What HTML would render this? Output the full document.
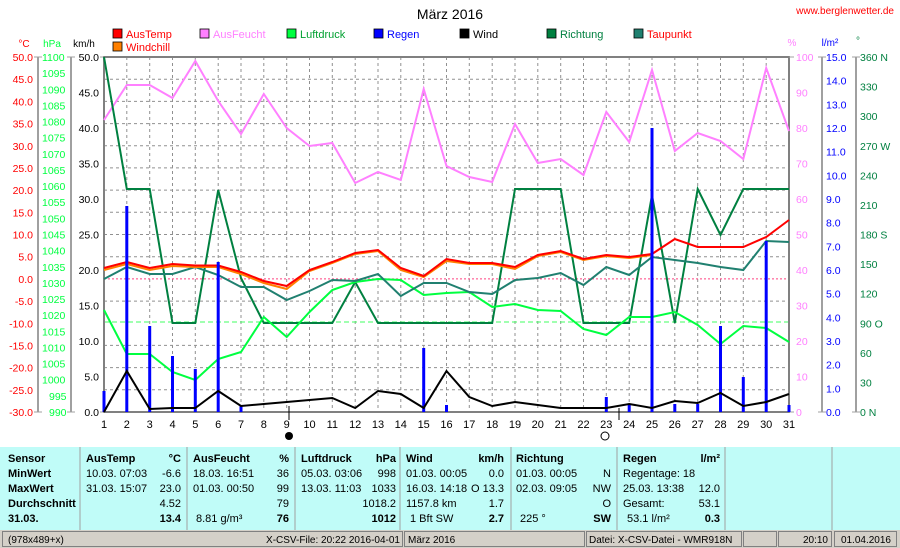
<!DOCTYPE html>
<html><head><meta charset="utf-8"><style>
body{margin:0;background:#fff;width:900px;height:548px;overflow:hidden}
svg{display:block;font-family:"Liberation Sans",sans-serif}
</style></head><body>
<svg width="900" height="548" viewBox="0 0 900 548" xmlns="http://www.w3.org/2000/svg">
<rect width="900" height="548" fill="#fff"/>
<text x="450" y="19" font-size="14" text-anchor="middle">März 2016</text>
<text x="894" y="14" font-size="10" fill="#ff0000" text-anchor="end">www.berglenwetter.de</text>
<g font-size="11">
<rect x="113" y="29" width="9" height="9" fill="#ff0000" stroke="#000" stroke-width="0.8"/><text x="126" y="38" fill="#ff0000">AusTemp</text>
<rect x="113" y="42" width="9" height="9" fill="#ff8000" stroke="#000" stroke-width="0.8"/><text x="126" y="51" fill="#ff0000">Windchill</text>
<rect x="200" y="29" width="9" height="9" fill="#ff80ff" stroke="#000" stroke-width="0.8"/><text x="213" y="38" fill="#ff80ff">AusFeucht</text>
<rect x="287" y="29" width="9" height="9" fill="#00ff40" stroke="#000" stroke-width="0.8"/><text x="300" y="38" fill="#00a030">Luftdruck</text>
<rect x="374" y="29" width="9" height="9" fill="#0000ff" stroke="#000" stroke-width="0.8"/><text x="387" y="38" fill="#0000ff">Regen</text>
<rect x="460" y="29" width="9" height="9" fill="#000" stroke="#000" stroke-width="0.8"/><text x="473" y="38" fill="#000">Wind</text>
<rect x="547" y="29" width="9" height="9" fill="#008040" stroke="#000" stroke-width="0.8"/><text x="560" y="38" fill="#008040">Richtung</text>
<rect x="634" y="29" width="9" height="9" fill="#208070" stroke="#000" stroke-width="0.8"/><text x="647" y="38" fill="#ff0000">Taupunkt</text>
</g>
<g font-size="10">
<text x="24" y="47" fill="#ff0000" text-anchor="middle">°C</text>
<text x="52" y="47" fill="#00ff40" text-anchor="middle">hPa</text>
<text x="84" y="47" fill="#000" text-anchor="middle">km/h</text>
<text x="792" y="46" fill="#ff80ff" text-anchor="middle">%</text>
<text x="830" y="46" fill="#0000ff" text-anchor="middle">l/m²</text>
<text x="858" y="44" fill="#008040" text-anchor="middle">°</text>
</g>
<g stroke="#909090" stroke-width="1" stroke-dasharray="3,3" fill="none">
<path d="M104 79.2H789M104 101.4H789M104 123.6H789M104 145.8H789M104 167.9H789M104 190.1H789M104 212.3H789M104 234.5H789M104 256.7H789M104 301.1H789M104 345.4H789M104 367.6H789M104 389.8H789"/>
<path d="M126.8 57V412M149.7 57V412M172.5 57V412M195.3 57V412M218.2 57V412M241 57V412M263.8 57V412M286.7 57V412M309.5 57V412M332.3 57V412M355.2 57V412M378 57V412M400.8 57V412M423.7 57V412M446.5 57V412M469.3 57V412M492.2 57V412M515 57V412M537.8 57V412M560.7 57V412M583.5 57V412M606.3 57V412M629.2 57V412M652 57V412M674.8 57V412M697.7 57V412M720.5 57V412M743.3 57V412M766.2 57V412"/>
</g>
<line x1="104" y1="278.9" x2="789" y2="278.9" stroke="#ff4080" stroke-dasharray="2,2"/>
<line x1="104" y1="322" x2="789" y2="322" stroke="#40ff60" stroke-dasharray="5,3"/>
<rect x="104" y="57" width="685" height="355" fill="none" stroke="#808080" stroke-width="2"/>
<g stroke="#a0a0a0" stroke-width="2"><line x1="38" y1="57" x2="38" y2="412"/><line x1="71" y1="57" x2="71" y2="412"/>
<line x1="822" y1="57" x2="822" y2="412"/><line x1="856" y1="57" x2="856" y2="412"/></g>
<g stroke="#a0a0a0" stroke-width="1">
<path d="M34 57h8M34 412h8M67 57h8M67 412h8M100 57h4M100 412h4M818 57h8M818 412h8M852 57h8M852 412h8M789 57h5M789 412h5"/>
</g>
<g font-size="10.5" fill="#ff0000" text-anchor="end">
<text x="33" y="61">50.0</text><text x="33" y="83.2">45.0</text><text x="33" y="105.4">40.0</text><text x="33" y="127.6">35.0</text><text x="33" y="149.8">30.0</text><text x="33" y="171.9">25.0</text><text x="33" y="194.1">20.0</text><text x="33" y="216.3">15.0</text><text x="33" y="238.5">10.0</text><text x="33" y="260.7">5.0</text><text x="33" y="282.9">0.0</text><text x="33" y="305.1">-5.0</text><text x="33" y="327.3">-10.0</text><text x="33" y="349.4">-15.0</text><text x="33" y="371.6">-20.0</text><text x="33" y="393.8">-25.0</text><text x="33" y="416">-30.0</text>
</g>
<g font-size="10.5" fill="#00ff40">
<text x="42" y="61">1100</text><text x="42" y="77.1">1095</text><text x="42" y="93.3">1090</text><text x="42" y="109.4">1085</text><text x="42" y="125.5">1080</text><text x="42" y="141.7">1075</text><text x="42" y="157.8">1070</text><text x="42" y="174">1065</text><text x="42" y="190.1">1060</text><text x="42" y="206.2">1055</text><text x="42" y="222.4">1050</text><text x="42" y="238.5">1045</text><text x="42" y="254.6">1040</text><text x="42" y="270.8">1035</text><text x="42" y="286.9">1030</text><text x="42" y="303">1025</text><text x="42" y="319.2">1020</text><text x="42" y="335.3">1015</text><text x="42" y="351.5">1010</text><text x="42" y="367.6">1005</text><text x="42" y="383.7">1000</text><text x="49" y="399.9">995</text><text x="49" y="416">990</text>
</g>
<g font-size="10.5" fill="#000" text-anchor="end">
<text x="99" y="61">50.0</text><text x="99" y="96.5">45.0</text><text x="99" y="132">40.0</text><text x="99" y="167.5">35.0</text><text x="99" y="203">30.0</text><text x="99" y="238.5">25.0</text><text x="99" y="274">20.0</text><text x="99" y="309.5">15.0</text><text x="99" y="345">10.0</text><text x="99" y="380.5">5.0</text><text x="99" y="416">0.0</text>
</g>
<g font-size="10.5" fill="#ff80ff">
<text x="796" y="61">100</text><text x="796" y="96.5">90</text><text x="796" y="132">80</text><text x="796" y="167.5">70</text><text x="796" y="203">60</text><text x="796" y="238.5">50</text><text x="796" y="274">40</text><text x="796" y="309.5">30</text><text x="796" y="345">20</text><text x="796" y="380.5">10</text><text x="796" y="416">0</text>
</g>
<g font-size="10.5" fill="#0000ff">
<text x="826" y="61">15.0</text><text x="826" y="84.7">14.0</text><text x="826" y="108.3">13.0</text><text x="826" y="132">12.0</text><text x="826" y="155.7">11.0</text><text x="826" y="179.3">10.0</text><text x="826" y="203">9.0</text><text x="826" y="226.7">8.0</text><text x="826" y="250.3">7.0</text><text x="826" y="274">6.0</text><text x="826" y="297.7">5.0</text><text x="826" y="321.3">4.0</text><text x="826" y="345">3.0</text><text x="826" y="368.7">2.0</text><text x="826" y="392.3">1.0</text><text x="826" y="416">0.0</text>
</g>
<g font-size="10.5" fill="#008040">
<text x="860" y="61">360 N</text><text x="860" y="90.6">330</text><text x="860" y="120.2">300</text><text x="860" y="149.8">270 W</text><text x="860" y="179.3">240</text><text x="860" y="208.9">210</text><text x="860" y="238.5">180 S</text><text x="860" y="268.1">150</text><text x="860" y="297.7">120</text><text x="860" y="327.3">90  O</text><text x="860" y="356.8">60</text><text x="860" y="386.4">30</text><text x="860" y="416">0   N</text>
</g>
<g font-size="11" text-anchor="middle">
<text x="104" y="428">1</text><text x="126.8" y="428">2</text><text x="149.7" y="428">3</text><text x="172.5" y="428">4</text><text x="195.3" y="428">5</text><text x="218.2" y="428">6</text><text x="241" y="428">7</text><text x="263.8" y="428">8</text><text x="286.7" y="428">9</text><text x="309.5" y="428">10</text><text x="332.3" y="428">11</text><text x="355.2" y="428">12</text><text x="378" y="428">13</text><text x="400.8" y="428">14</text><text x="423.7" y="428">15</text><text x="446.5" y="428">16</text><text x="469.3" y="428">17</text><text x="492.2" y="428">18</text><text x="515" y="428">19</text><text x="537.8" y="428">20</text><text x="560.7" y="428">21</text><text x="583.5" y="428">22</text><text x="606.3" y="428">23</text><text x="629.2" y="428">24</text><text x="652" y="428">25</text><text x="674.8" y="428">26</text><text x="697.7" y="428">27</text><text x="720.5" y="428">28</text><text x="743.3" y="428">29</text><text x="766.2" y="428">30</text><text x="789" y="428">31</text>
</g>
<line x1="289" y1="406" x2="289" y2="420" stroke="#000"/><line x1="619" y1="408" x2="619" y2="420" stroke="#000"/>
<circle cx="289" cy="436" r="4" fill="#000"/><circle cx="605" cy="436" r="4" fill="#fff" stroke="#000"/>
<polyline fill="none" stroke="#ff80ff" stroke-width="2" points="104,120 126.8,85 149.7,85 172.5,98 195.3,61 218.2,101 241,134 263.8,94 286.7,128 309.5,146 332.3,143 355.2,183 378,172 400.8,180 423.7,89 446.5,166 469.3,177 492.2,182 515,124 537.8,163 560.7,159 583.5,175 606.3,112 629.2,142 652,70 674.8,151 697.7,133 720.5,141 743.3,159 766.2,68 789,131"/>
<polyline fill="none" stroke="#008040" stroke-width="2" points="104,57 126.8,189 149.7,189 172.5,323 195.3,323 218.2,190 241,278 263.8,323 286.7,323 309.5,323 332.3,323 355.2,282 378,323 400.8,323 423.7,323 446.5,323 469.3,323 492.2,323 515,189 537.8,189 560.7,189 583.5,323 606.3,323 629.2,323 652,195 674.8,323 697.7,189 720.5,235 743.3,189 766.2,189 789,189"/>
<polyline fill="none" stroke="#00ff40" stroke-width="2" points="104,310 126.8,354 149.7,354 172.5,372 195.3,380 218.2,359 241,352 263.8,317 286.7,337 309.5,312 332.3,290 355.2,282 378,279 400.8,280 423.7,295 446.5,293 469.3,292 492.2,307 515,304 537.8,310 560.7,311 583.5,329 606.3,335 629.2,317 652,317 674.8,312 697.7,325 720.5,344 743.3,326 766.2,328 789,342"/>
<polyline fill="none" stroke="#208070" stroke-width="2" points="104,279 126.8,267 149.7,274 172.5,274 195.3,267 218.2,275 241,287 263.8,287 286.7,300 309.5,291 332.3,280 355.2,281 378,274 400.8,296 423.7,283 446.5,283 469.3,292 492.2,294 515,280 537.8,278 560.7,273 583.5,285 606.3,267 629.2,275 652,257 674.8,260 697.7,263 720.5,267 743.3,270 766.2,241 789,242"/>
<polyline fill="none" stroke="#ff8000" stroke-width="2" points="104,270 126.8,264 149.7,270 172.5,266 195.3,267 218.2,267 241,274 263.8,283 286.7,289 309.5,271 332.3,263 355.2,254 378,251 400.8,270 423.7,277 446.5,261 469.3,264 492.2,264 515,269 537.8,256 560.7,252 583.5,260 606.3,256 629.2,258 652,255"/>
<polyline fill="none" stroke="#ff0000" stroke-width="2" points="104,268 126.8,262 149.7,268 172.5,264 195.3,265.5 218.2,265.5 241,272 263.8,281 286.7,286 309.5,270 332.3,262 355.2,253 378,250 400.8,268 423.7,276 446.5,259 469.3,263 492.2,263 515,267 537.8,255 560.7,251 583.5,259 606.3,255 629.2,257 652,254 674.8,239 697.7,247 720.5,247 743.3,247 766.2,237 789,220"/>
<g stroke="#0000ff" stroke-width="3">
<line x1="104" y1="391" x2="104" y2="412"/><line x1="126.8" y1="206" x2="126.8" y2="412"/><line x1="149.7" y1="326" x2="149.7" y2="412"/><line x1="172.5" y1="356" x2="172.5" y2="412"/><line x1="195.3" y1="369" x2="195.3" y2="412"/><line x1="218.2" y1="262" x2="218.2" y2="412"/><line x1="241" y1="405" x2="241" y2="412"/><line x1="423.7" y1="348" x2="423.7" y2="412"/><line x1="446.5" y1="405" x2="446.5" y2="412"/><line x1="606.3" y1="397" x2="606.3" y2="412"/><line x1="629.2" y1="405" x2="629.2" y2="412"/><line x1="652" y1="128" x2="652" y2="412"/><line x1="674.8" y1="404" x2="674.8" y2="412"/><line x1="697.7" y1="404" x2="697.7" y2="412"/><line x1="720.5" y1="326" x2="720.5" y2="412"/><line x1="743.3" y1="377" x2="743.3" y2="412"/><line x1="766.2" y1="241" x2="766.2" y2="412"/><line x1="789" y1="405" x2="789" y2="412"/>
</g>
<polyline fill="none" stroke="#000" stroke-width="2" points="104,412 126.8,371 149.7,409 172.5,408 195.3,408 218.2,391 241,406 263.8,404 286.7,402 309.5,400 332.3,398 355.2,408 378,391 400.8,394 423.7,408 446.5,371 469.3,397 492.2,406 515,402 537.8,405 560.7,408 583.5,408 606.3,408 629.2,404 652,408 674.8,401 697.7,403 720.5,393 743.3,406 766.2,402 789,394"/>
<rect x="0" y="447" width="900" height="83" fill="#c0fcf8"/>
<g stroke="#a0a0a0" stroke-width="1"><line x1="80" y1="447" x2="80" y2="530"/><line x1="187" y1="447" x2="187" y2="530"/><line x1="295" y1="447" x2="295" y2="530"/><line x1="400" y1="447" x2="400" y2="530"/><line x1="511" y1="447" x2="511" y2="530"/><line x1="617" y1="447" x2="617" y2="530"/><line x1="725" y1="447" x2="725" y2="530"/><line x1="832" y1="447" x2="832" y2="530"/></g>
<g font-size="11" fill="#000">
<g font-weight="bold"><text x="8" y="462">Sensor</text><text x="8" y="477">MinWert</text><text x="8" y="492">MaxWert</text><text x="8" y="507">Durchschnitt</text><text x="8" y="522">31.03.</text>
<text x="86" y="462">AusTemp</text><text x="193" y="462">AusFeucht</text><text x="301" y="462">Luftdruck</text><text x="406" y="462">Wind</text><text x="516" y="462">Richtung</text><text x="623" y="462">Regen</text></g>
<g font-weight="bold" text-anchor="end"><text x="181" y="462">°C</text><text x="289" y="462">%</text><text x="396" y="462">hPa</text><text x="504" y="462">km/h</text><text x="720" y="462">l/m²</text>
<text x="181" y="522">13.4</text><text x="289" y="522">76</text><text x="396" y="522">1012</text><text x="504" y="522">2.7</text><text x="611" y="522">SW</text><text x="720" y="522">0.3</text></g>
<text x="86" y="477">10.03.  07:03</text><text x="86" y="492">31.03.  15:07</text>
<text x="193" y="477">18.03.  16:51</text><text x="193" y="492">01.03.  00:50</text><text x="196" y="522">8.81 g/m³</text>
<text x="301" y="477">05.03.  03:06</text><text x="301" y="492">13.03.  11:03</text>
<text x="406" y="477">01.03.  00:05</text><text x="406" y="492">16.03.  14:18</text><text x="406" y="507">1157.8 km</text><text x="410" y="522">1 Bft SW</text>
<text x="516" y="477">01.03.  00:05</text><text x="516" y="492">02.03.  09:05</text><text x="520" y="522">225 °</text>
<text x="623" y="477">Regentage: 18</text><text x="623" y="492">25.03.  13:38</text><text x="623" y="507">Gesamt:</text><text x="627" y="522">53.1 l/m²</text>
<g text-anchor="end"><text x="181" y="477">-6.6</text><text x="181" y="492">23.0</text><text x="181" y="507">4.52</text>
<text x="289" y="477">36</text><text x="289" y="492">99</text><text x="289" y="507">79</text>
<text x="396" y="477">998</text><text x="396" y="492">1033</text><text x="396" y="507">1018.2</text>
<text x="504" y="477">0.0</text><text x="504" y="492">O 13.3</text><text x="504" y="507">1.7</text>
<text x="611" y="477">N</text><text x="611" y="492">NW</text><text x="611" y="507">O</text>
<text x="720" y="492">12.0</text><text x="720" y="507">53.1</text></g>
</g>
<rect x="0" y="530" width="900" height="18" fill="#d4d0c8"/>
<g fill="none" stroke="#808080"><rect x="2.5" y="531.5" width="400" height="15"/><rect x="404.5" y="531.5" width="180" height="15"/><rect x="586.5" y="531.5" width="155" height="15"/><rect x="743.5" y="531.5" width="33" height="15"/><rect x="778.5" y="531.5" width="53" height="15"/><rect x="834.5" y="531.5" width="62" height="15"/></g>
<g font-size="10" fill="#000"><text x="8" y="543">(978x489+x)</text><text x="400" y="543" text-anchor="end">X-CSV-File:  20:22  2016-04-01</text><text x="408" y="543">März 2016</text><text x="589" y="543">Datei: X-CSV-Datei - WMR918N</text><text x="828" y="543" text-anchor="end">20:10</text><text x="891" y="543" text-anchor="end">01.04.2016</text></g>
</svg>
</body></html>
